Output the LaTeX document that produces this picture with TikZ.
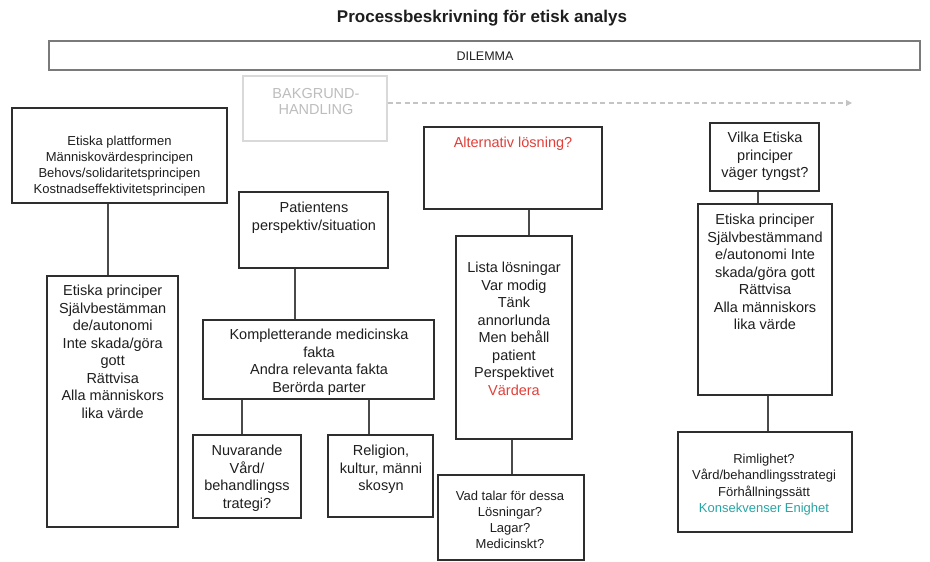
\documentclass[tikz,border=0pt]{standalone}
\usepackage{fontspec}
\setmainfont{Liberation Sans}
\usetikzlibrary{arrows.meta}
\definecolor{boxc}{HTML}{2E2E2E}
\definecolor{linec}{HTML}{4A4A4A}
\definecolor{txtc}{HTML}{1E1E1E}
\definecolor{dilc}{HTML}{7A7A7A}
\definecolor{bakbox}{HTML}{D9D9D9}
\definecolor{baktxt}{HTML}{BDBDBD}
\definecolor{arrc}{HTML}{C4C4C4}
\definecolor{redc}{HTML}{E0403A}
\definecolor{tealc}{HTML}{2AA5A5}
\tikzset{
  box/.style={draw=boxc, line width=1.3pt, inner sep=0pt, fill=white},
  txt/.style={inner sep=0pt, align=center, anchor=north, text=txtc, font=\fontsize{14.5}{17.5}\selectfont},
  txts/.style={txt, font=\fontsize{13}{16}\selectfont},
  conn/.style={draw=linec, line width=1.3pt},
}
\begin{document}
\begin{tikzpicture}[x=1pt,y=-1pt]
\useasboundingbox[fill=white] (0,0) rectangle (930,562);

% title
\node[inner sep=0pt, text=txtc, font=\bfseries\fontsize{17}{20}\selectfont] (title) at (482,18) {Processbeskrivning för etisk analys};

% dilemma
\node[draw=dilc, line width=1.8pt, inner sep=0pt, minimum width=871, minimum height=29] (dil) at (484.5,55.5) {};
\node[inner sep=0pt, text=txtc, font=\fontsize{12.5}{14}\selectfont] (diltxt) at (485,56) {DILEMMA};

% bakgrund
\node[draw=bakbox, line width=1.2pt, inner sep=0pt, minimum width=144, minimum height=65] (bak) at (315,108.5) {};
\node[txt, text=baktxt, font=\fontsize{14.5}{15.5}\selectfont] (baktxt) at (316,88.5) {BAKGRUND-\\HANDLING};
\coordinate (arrend) at (852,103);
\draw[draw=arrc, line width=1.2pt, dash pattern=on 5pt off 3.5pt, -{Triangle[length=6pt,width=6pt]}] (bak.east |- arrend) -- (arrend);

% left column
\node[box, minimum width=215, minimum height=95] (plat) at (119.5,155.5) {};
\node[txts] (plattxt) at (119.5,135.8) {Etiska plattformen\\Människovärdesprincipen\\Behovs/solidaritetsprincipen\\Kostnadseffektivitetsprincipen};
\node[box, minimum width=131, minimum height=251] (epL) at (112.5,401.5) {};
\node[txt] (epLtxt) at (112.7,285.2) {Etiska principer\\Självbestämman\\de/autonomi\\Inte skada/göra\\gott\\Rättvisa\\Alla människors\\lika värde};
\draw[conn] ([xshift=-11.5pt]plat.south) -- ([xshift=-11.5pt]plat.south |- epL.north);

% patient column
\node[box, minimum width=149, minimum height=76] (pat) at (313.5,230) {};
\node[txt] (pattxt) at (314,202.2) {Patientens\\perspektiv/situation};
\node[box, minimum width=231, minimum height=79] (komp) at (318.5,359.5) {};
\node[txt] (komptxt) at (319,329.2) {Kompletterande medicinska\\fakta\\Andra relevanta fakta\\Berörda parter};
\draw[conn] ([xshift=-18.5pt]pat.south) -- ([xshift=-18.5pt]pat.south |- komp.north);
\node[box, minimum width=108, minimum height=83] (nuv) at (247,476.5) {};
\node[txt] (nuvtxt) at (247,445.2) {Nuvarande\\Vård/\\behandlingss\\trategi?};
\node[box, minimum width=105, minimum height=82] (rel) at (380.5,476) {};
\node[txt] (reltxt) at (381,445.2) {Religion,\\kultur, männi\\skosyn};
\draw[conn] ([xshift=-76.5pt]komp.south) -- ([xshift=-76.5pt]komp.south |- nuv.north);
\draw[conn] ([xshift=50.5pt]komp.south) -- ([xshift=50.5pt]komp.south |- rel.north);

% alternativ column
\node[box, minimum width=178, minimum height=82] (alt) at (513,168) {};
\node[txt, text=redc] (alttxt) at (513,137.2) {Alternativ lösning?};
\node[box, minimum width=116, minimum height=203] (lista) at (514,337.5) {};
\node[txt] (listatxt) at (514,262.2) {Lista lösningar\\Var modig\\Tänk\\annorlunda\\Men behåll\\patient\\Perspektivet\\\textcolor{redc}{Värdera}};
\draw[conn] ([xshift=16pt]alt.south) -- ([xshift=16pt]alt.south |- lista.north);
\node[box, minimum width=146, minimum height=85] (vad) at (511,517.5) {};
\node[txts] (vadtxt) at (510,490.8) {Vad talar för dessa\\Lösningar?\\Lagar?\\Medicinskt?};
\draw[conn] ([xshift=-2pt]lista.south) -- ([xshift=-2pt]lista.south |- vad.north);

% right column
\node[box, minimum width=109, minimum height=68] (vilka) at (764.5,157) {};
\node[txt] (vilkatxt) at (765,132.2) {Vilka Etiska\\principer\\väger tyngst?};
\node[box, minimum width=134, minimum height=191] (epR) at (765,299.5) {};
\node[txt] (epRtxt) at (765,214.2) {Etiska principer\\Självbestämmand\\e/autonomi Inte\\skada/göra gott\\Rättvisa\\Alla människors\\lika värde};
\draw[conn] ([xshift=-6.5pt]vilka.south) -- ([xshift=-6.5pt]vilka.south |- epR.north);
\node[box, minimum width=174, minimum height=100] (rim) at (765,482) {};
\node[txts, font=\fontsize{13}{16.3}\selectfont] (rimtxt) at (764,453.8) {Rimlighet?\\Vård/behandlingsstrategi\\Förhållningssätt\\\textcolor{tealc}{Konsekvenser Enighet}};
\draw[conn] ([xshift=3pt]epR.south) -- ([xshift=3pt]epR.south |- rim.north);
\end{tikzpicture}
\end{document}
